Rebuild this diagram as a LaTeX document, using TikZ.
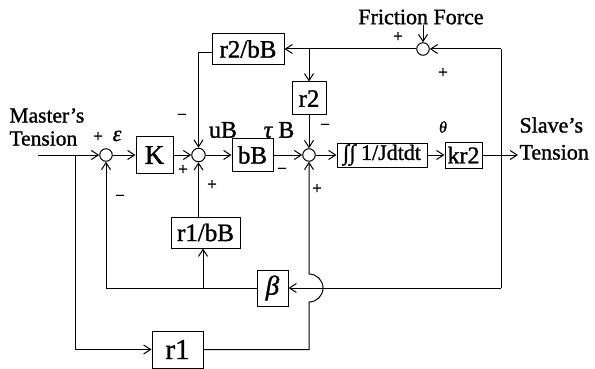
\documentclass[tikz,border=0pt]{standalone}
\usepackage{fontspec}
\setmainfont{Liberation Serif}[FakeBold=1.2]
\usetikzlibrary{arrows.meta}
\begin{document}
\begin{tikzpicture}[x=1pt,y=-1pt,line width=1pt,
  >={Straight Barb[length=7pt,width=9pt]},
  blk/.style={draw,rectangle,inner sep=0pt,font=\fontsize{25}{27}\selectfont},
  sumc/.style={draw,circle,minimum size=12.5pt,inner sep=0pt},
  sgn/.style={font=\fontsize{17}{18}\selectfont,inner sep=0pt},
  lbl/.style={font=\fontsize{24}{26}\selectfont,inner sep=0pt},
  txt/.style={font=\fontsize{21.5}{23}\selectfont,inner sep=0pt,align=left,anchor=west}]
\useasboundingbox (0,0) rectangle (595,369);
\fill[white] (0,0) rectangle (595,369);
% main path nodes
\node[sumc] (s1) at (106,155) {};
\node[blk,minimum width=37pt,minimum height=37pt,font=\fontsize{27}{29}\selectfont] (K) at (154.5,155) {K};
\node[sumc,minimum size=13.5pt] (s2) at (198.5,155) {};
\node[blk,minimum width=41pt,minimum height=33pt] (bB) at (252.5,155) {bB};
\node[sumc] (s3) at (309,155) {};
\node[blk,minimum width=90pt,minimum height=24pt,font=\fontsize{22}{23}\selectfont] (int) at (382,155) {∫\kern0.02em∫ 1/Jdtdt};
\node[blk,minimum width=37pt,minimum height=26pt,font=\fontsize{24}{26}\selectfont] (kr2) at (463.5,155) {kr2};
\coordinate (in) at (38,155);
\coordinate (bp) at (75,155);
\coordinate (out) at (501,155);
\coordinate (outend) at (518,155);
% upper loop
\node[blk,minimum width=72pt,minimum height=31pt] (r2bB) at (248,49) {r2/bB};
\node[sumc] (sf) at (423,49) {};
\node[blk,minimum width=34pt,minimum height=33pt] (r2) at (309,98.5) {r2};
\coordinate (tr) at (501,49);
\coordinate (br2) at (309,49);
\coordinate (l2w) at (212,53);
\coordinate (l2c) at (198.5,53);
\coordinate (fa) at (423,25);
% lower loop
\node[blk,minimum width=69pt,minimum height=31pt] (r1bB) at (205.5,232.5) {r1/bB};
\node[blk,minimum width=31pt,minimum height=36pt,font=\fontsize{27}{29}\selectfont\itshape] (beta) at (272.5,288) {β};
\node[blk,minimum width=51pt,minimum height=37pt,font=\fontsize{29}{31}\selectfont] (r1) at (177.5,349.5) {r1};
\coordinate (fb) at (501,288);
\coordinate (b1) at (203,288);
\coordinate (b2) at (106,288);
\coordinate (jb) at (309,302);
% connectors
\draw[->] (in) -- (s1);
\draw[->] (s1) -- (K);
\draw[->] (K) -- (s2);
\draw[->] (s2) -- (bB);
\draw[->] (bB) -- (s3);
\draw[->] (s3) -- (int);
\draw[->] (int) -- (kr2);
\draw[->] (kr2) -- (outend);
\draw (out) -- (tr);
\draw[->] (tr) -- (sf);
\draw[->] (sf) -- (r2bB);
\draw[->] (br2) -- (r2);
\draw[->] (r2) -- (s3);
\draw[->] (l2w) -- (l2c) -- (s2);
\draw[->] (fa) -- (sf);
\draw (out) -- (fb);
\draw[->] (fb) -- (beta);
\draw[->] (beta) -- (b2) -- (s1);
\draw[->] (b1) -- (b1 |- r1bB.south);
\draw[->] (r1bB.north -| s2) -- (s2);
\draw[->] (bp) -- (bp |- r1) -- (r1);
\draw[->] (r1) -- (r1 -| jb) -- (jb) arc[start angle=90,end angle=-90,radius=14] -- (s3);
% texts
\node[txt] (mt) at (9,127) {Master’s\\Tension};
\node[txt,font=\fontsize{22}{27}\selectfont] (st) at (519,138.5) {Slave’s\\Tension};
\node[lbl,font=\fontsize{22}{24}\selectfont] (ff) at (421,17) {Friction Force};
\node[sgn] (p1) at (98,137) {+};
\node[lbl,font=\fontsize{22}{24}\selectfont\itshape] (eps) at (117,136) {ε};
\node[sgn] (m1) at (120,198) {−};
\node[sgn] (m2) at (182,117) {−};
\node[lbl] (uB) at (223,130) {uB};
\node[sgn] (p2) at (183,170) {+};
\node[sgn] (p3) at (212,185) {+};
\node[lbl] (tB) at (279,130) {{\itshape τ} B};
\node[sgn] (m3) at (282,171) {−};
\node[sgn] (m4) at (325,127) {−};
\node[sgn] (p4) at (317,189) {+};
\node[lbl,font=\fontsize{16}{17}\selectfont\itshape] (th) at (443,127) {θ};
\node[sgn] (p5) at (398,37) {+};
\node[sgn] (p6) at (443,73) {+};
\end{tikzpicture}
\end{document}
